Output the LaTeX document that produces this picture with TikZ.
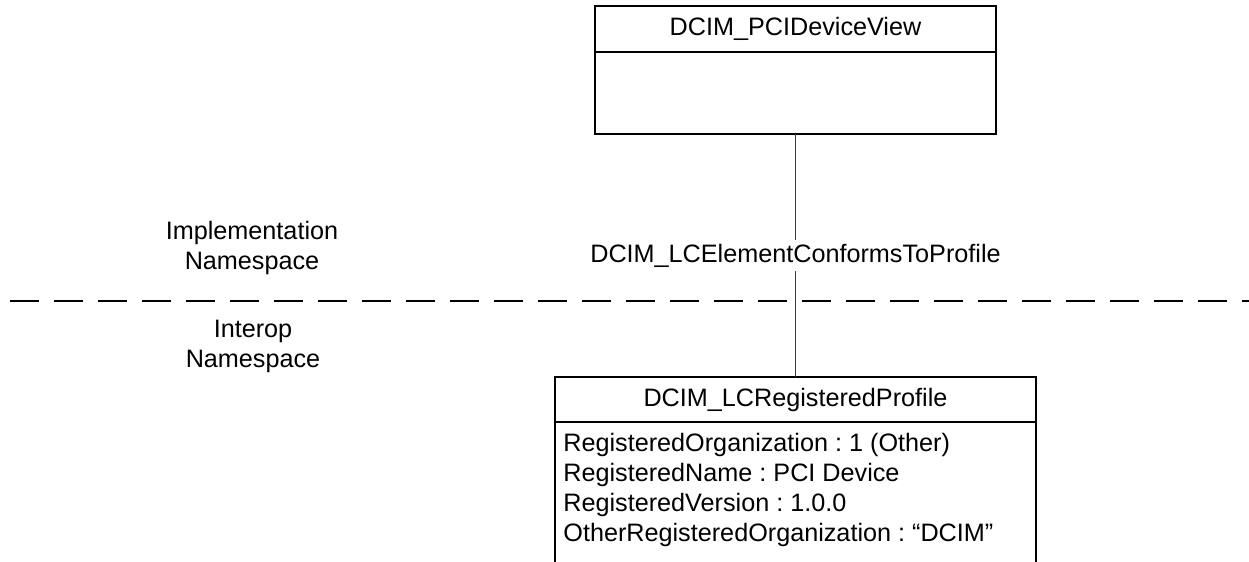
\documentclass[tikz,border=0pt]{standalone}
\usepackage{fontspec}
\setmainfont{Liberation Sans}
\usetikzlibrary{positioning}
\newcommand{\umlfont}{\fontsize{12.6}{15}\selectfont\frenchspacing}
\tikzset{
  classhead/.style = {draw, line width=1pt, inner sep=0pt, outer sep=0pt, font=\umlfont},
  classbody/.style = {draw, line width=1pt, inner sep=0pt, outer sep=0pt},
  attrs/.style     = {font=\umlfont, inner sep=0pt, align=left},
  nslabel/.style   = {font=\umlfont, inner sep=0pt, align=center},
  nsline/.style    = {line width=1pt, dash pattern=on 14.5pt off 7.5pt},
  assoc/.style     = {line width=0.5pt, red!75!black},
}

\begin{document}
\begin{tikzpicture}[x=0.5pt, y=-0.5pt]
\useasboundingbox (0,0) rectangle (1249,562);
\clip (0,0) rectangle (1249,562);
% implementation side
\node[classhead, minimum width=200.5pt, minimum height=23pt] (pcihead) at (795.5,29) {DCIM\_PCIDeviceView};
\node[classbody, minimum width=200.5pt, minimum height=41pt, below=0pt of pcihead] (pcibody) {};
% interop side
\node[classhead, minimum width=240.5pt, minimum height=22.5pt] (profhead) at (795.5,399.5) {DCIM\_LCRegisteredProfile};
\node[classbody, minimum width=240.5pt, minimum height=90pt, below=0pt of profhead] (profbody) {};
\node[attrs, anchor=north west] (profattrs) at (563,433) {RegisteredOrganization : 1 (Other)\\
  RegisteredName : PCI Device\\
  RegisteredVersion : 1.0.0\\
  OtherRegisteredOrganization : “DCIM”};
% namespace border
\node[nslabel] (implns) at (252,247.5) {Implementation\\Namespace};
\node[nslabel] (interopns) at (253,346) {Interop\\Namespace};
\coordinate (nsleft) at (10,301);
\coordinate (nsright) at (1249,301);
\draw[nsline] (nsleft) -- (nsright);
% association
\draw[assoc] (pcibody.south) -- node[font=\umlfont, fill=white, text=black, inner sep=2pt] (assoclabel) {DCIM\_LCElementConformsToProfile} (profhead.north);
\end{tikzpicture}
\end{document}
